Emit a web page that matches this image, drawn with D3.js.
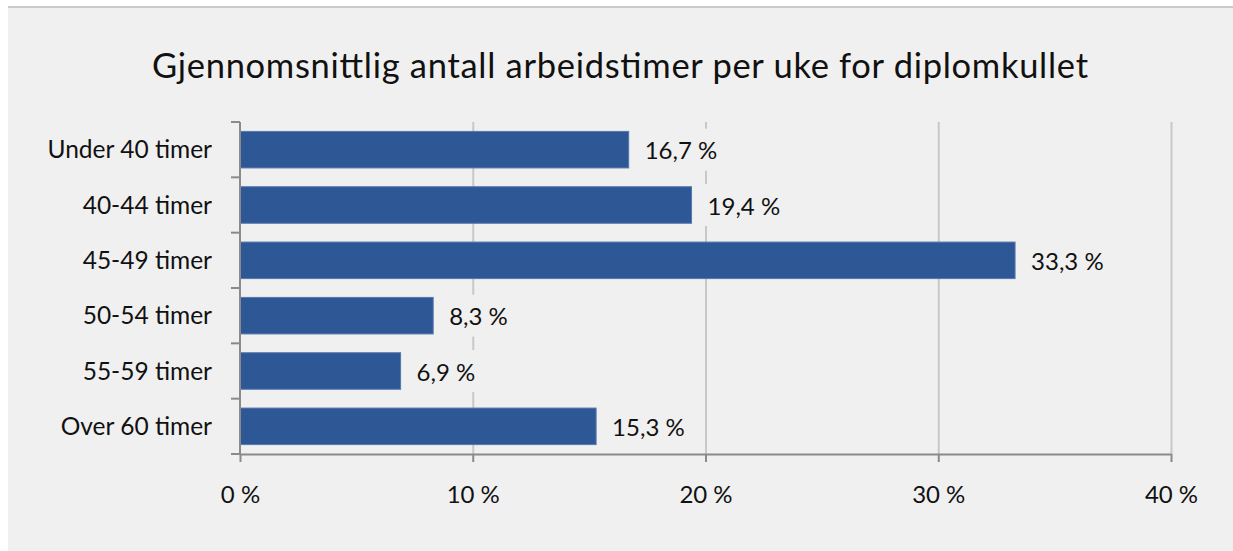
<!DOCTYPE html>
<meta charset="utf-8">
<style>
body { margin: 0; background: #fff; }
text { font-family: Lato, "Open Sans", sans-serif; fill: #111; }
.grid line { stroke: #c8c8c8; stroke-width: 2px; }
.grid path { display: none; }
.axis path, .axis line { stroke: #8a8a8a; stroke-width: 2px; }
</style>
<body>
<script src="https://d3js.org/d3.v7.min.js"></script>
<script>

// data
var categories = ["Under 40 timer", "40-44 timer", "45-49 timer", "50-54 timer", "55-59 timer", "Over 60 timer"];
var values = [16.7, 19.4, 33.3, 8.3, 6.9, 15.3];
var xTicks = [0, 10, 20, 30, 40];
var title = "Gjennomsnittlig antall arbeidstimer per uke for diplomkullet";

var W = 1233, H = 551;
var margin = {top: 122, left: 240, right: 62, bottom: 97};
var width = W - margin.left - margin.right,
    height = H - margin.top - margin.bottom;

var fmt = function(v) { return String(v.toFixed(1)).replace(".", ",") + " %"; };

var svg = d3.select("body").append("svg")
    .attr("width", W)
    .attr("height", H);

// background panel + top border
svg.append("rect")
    .attr("x", 8).attr("y", 7)
    .attr("width", W - 8).attr("height", H - 7)
    .attr("fill", "#f0f0f0");
svg.append("line")
    .attr("x1", 8).attr("x2", W)
    .attr("y1", 7).attr("y2", 7)
    .attr("stroke", "#c8cccf").attr("stroke-width", 2);

svg.append("text")
    .attr("x", 620).attr("y", 78)
    .attr("text-anchor", "middle")
    .style("font-size", "34.5px")
    .attr("textLength", 936)
    .attr("lengthAdjust", "spacing")
    .text(title);

var g = svg.append("g")
    .attr("transform", "translate(" + margin.left + "," + margin.top + ")");

var x = d3.scaleLinear().domain([0, 40]).range([0, width]);
var y = d3.scaleBand().domain(categories).range([0, height])
    .paddingInner(0.34).paddingOuter(0.17);

// gridlines
g.append("g")
    .attr("class", "grid")
    .call(d3.axisBottom(x).tickValues(xTicks.slice(1)).tickSize(height).tickFormat(""));

// bars
g.selectAll(".bar")
    .data(values)
  .enter().append("rect")
    .attr("class", "bar")
    .attr("x", x(0))
    .attr("y", function(d, i) { return y(categories[i]); })
    .attr("width", function(d) { return x(d) - x(0); })
    .attr("height", y.bandwidth())
    .attr("fill", "#2d5795")
    .attr("stroke", "#5478ae")
    .attr("stroke-width", 1);

// value labels with background boxes
var lab = g.selectAll(".val")
    .data(values)
  .enter().append("g")
    .attr("class", "val")
    .attr("transform", function(d, i) {
      return "translate(" + (x(d) + 16) + "," + (y(categories[i]) + y.bandwidth() / 2) + ")";
    });
lab.append("rect")
    .attr("x", -8).attr("y", -21)
    .attr("width", 86).attr("height", 42)
    .attr("fill", "#f0f0f0");
lab.append("text")
    .attr("dy", "0.4em")
    .style("font-size", "24px")
    .text(function(d) { return fmt(d); });

// y axis
var yAxis = g.append("g").attr("class", "axis");
yAxis.append("line")
    .attr("x1", 0).attr("x2", 0)
    .attr("y1", 0).attr("y2", height);
yAxis.selectAll(".tk")
    .data(d3.range(categories.length + 1))
  .enter().append("line")
    .attr("x1", -9).attr("x2", 0)
    .attr("y1", function(i) { return i * y.step(); })
    .attr("y2", function(i) { return i * y.step(); });
yAxis.selectAll(".cat")
    .data(categories)
  .enter().append("text")
    .attr("x", -28)
    .attr("y", function(d) { return y(d) + y.bandwidth() / 2; })
    .attr("dy", "0.35em")
    .attr("text-anchor", "end")
    .style("font-size", "24.5px")
    .style("fill", "#111")
    .style("stroke", "none")
    .text(function(d) { return d; });

// x axis
var xAxis = g.append("g")
    .attr("class", "axis")
    .attr("transform", "translate(0," + height + ")")
    .call(d3.axisBottom(x).tickValues(xTicks).tickSize(8).tickSizeOuter(0).tickPadding(24)
      .tickFormat(function(d) { return d + " %"; }));
xAxis.selectAll("text")
    .style("font-size", "24px")
    .style("font-family", "Lato, sans-serif")
    .attr("fill", "#111");

</script>
</body>
